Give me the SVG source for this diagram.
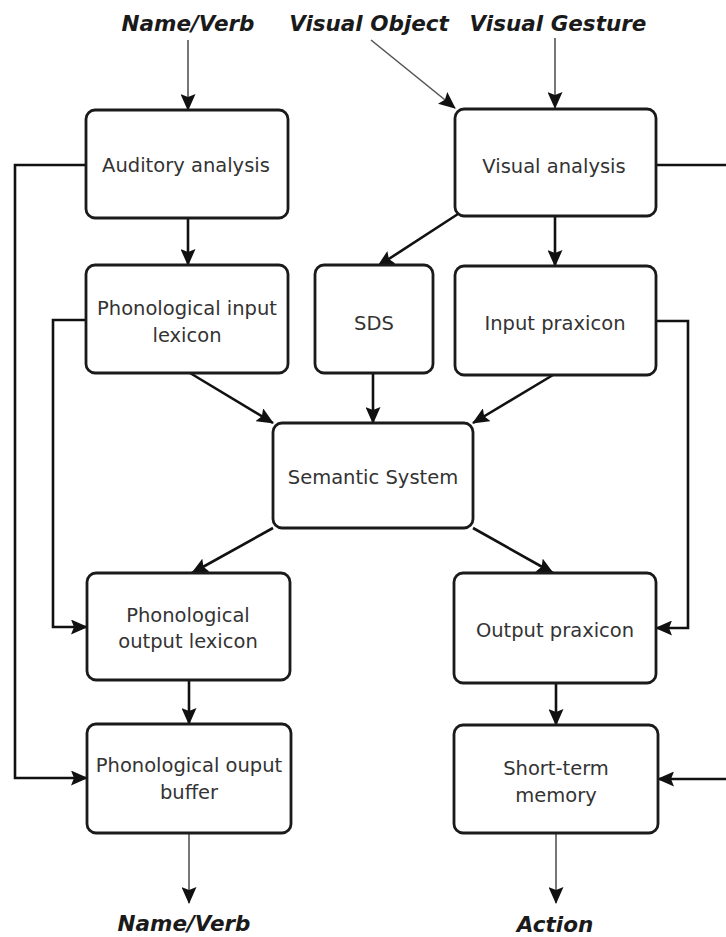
<svg xmlns="http://www.w3.org/2000/svg" width="726" height="937" viewBox="0 0 726 937">
<style>
.box{fill:#fff;stroke:#1a1a1a;stroke-width:2.8}
.t{font-family:"DejaVu Sans",Verdana,sans-serif;font-size:19.5px;fill:#333;text-anchor:middle}
.lbl{font-family:"DejaVu Sans","Liberation Sans",sans-serif;font-size:21.5px;font-weight:bold;font-style:italic;fill:#1a1a1a;text-anchor:middle}
.c{fill:none;stroke:#111;stroke-width:2.6}
.io{fill:none;stroke:#555;stroke-width:1.6}
</style>
<defs>
<marker id="a" viewBox="0 0 17 15" refX="16" refY="7.5" markerWidth="17" markerHeight="15" markerUnits="userSpaceOnUse" orient="auto">
<path d="M0,0 L17,7.5 L0,15 L3,7.5 z" fill="#111"/>
</marker>
</defs>
<rect width="726" height="937" fill="#fff"/>

<g id="labels">
<text class="lbl" x="188" y="31">Name/Verb</text>
<text class="lbl" x="369" y="31">Visual Object</text>
<text class="lbl" x="558" y="31">Visual Gesture</text>
<text class="lbl" x="184" y="931">Name/Verb</text>
<text class="lbl" x="555" y="932">Action</text>
</g>

<g id="connectors">
<line class="io" x1="188" y1="40" x2="188" y2="110" marker-end="url(#a)"/>
<line class="io" x1="371" y1="40" x2="455" y2="108" marker-end="url(#a)"/>
<line class="io" x1="555" y1="38" x2="555" y2="108" marker-end="url(#a)"/>
<line class="io" x1="189" y1="833" x2="189" y2="903" marker-end="url(#a)"/>
<line class="io" x1="556" y1="833" x2="556" y2="903" marker-end="url(#a)"/>

<polyline class="c" points="86,165 15,165 15,778 87,778" marker-end="url(#a)"/>
<polyline class="c" points="86,320 53,320 53,627 87,627" marker-end="url(#a)"/>
<polyline class="c" points="656,321 688,321 688,628 656,628" marker-end="url(#a)"/>
<line class="c" x1="656" y1="165" x2="726" y2="165"/>
<line class="c" x1="726" y1="779" x2="658" y2="779" marker-end="url(#a)"/>

<line class="c" x1="188" y1="218" x2="188" y2="265" marker-end="url(#a)"/>
<line class="c" x1="458" y1="214" x2="378" y2="266" marker-end="url(#a)"/>
<line class="c" x1="555" y1="216" x2="555" y2="266" marker-end="url(#a)"/>
<line class="c" x1="190" y1="373" x2="273" y2="423" marker-end="url(#a)"/>
<line class="c" x1="373" y1="373" x2="373" y2="423" marker-end="url(#a)"/>
<line class="c" x1="553" y1="375" x2="473" y2="423" marker-end="url(#a)"/>
<line class="c" x1="273" y1="528" x2="192" y2="573" marker-end="url(#a)"/>
<line class="c" x1="473" y1="528" x2="553" y2="573" marker-end="url(#a)"/>
<line class="c" x1="189" y1="680" x2="189" y2="724" marker-end="url(#a)"/>
<line class="c" x1="556" y1="683" x2="556" y2="725" marker-end="url(#a)"/>
</g>

<g id="auditory">
<rect class="box" x="86" y="110" width="202" height="108" rx="9"/>
<text class="t" x="186" y="172">Auditory analysis</text>
</g>
<g id="visual">
<rect class="box" x="455" y="109" width="201" height="107" rx="9"/>
<text class="t" x="554" y="173">Visual analysis</text>
</g>
<g id="phon-input">
<rect class="box" x="86" y="265" width="202" height="108" rx="9"/>
<text class="t" x="187" y="315">Phonological input</text>
<text class="t" x="187" y="342">lexicon</text>
</g>
<g id="sds">
<rect class="box" x="315" y="265" width="118" height="108" rx="9"/>
<text class="t" x="374" y="330">SDS</text>
</g>
<g id="input-praxicon">
<rect class="box" x="455" y="266" width="201" height="109" rx="9"/>
<text class="t" x="555" y="330">Input praxicon</text>
</g>
<g id="semantic">
<rect class="box" x="273" y="423" width="200" height="105" rx="9"/>
<text class="t" x="373" y="484">Semantic System</text>
</g>
<g id="phon-output">
<rect class="box" x="87" y="573" width="203" height="107" rx="9"/>
<text class="t" x="188" y="622">Phonological</text>
<text class="t" x="188" y="648">output lexicon</text>
</g>
<g id="output-praxicon">
<rect class="box" x="454" y="573" width="202" height="110" rx="9"/>
<text class="t" x="555" y="637">Output praxicon</text>
</g>
<g id="phon-buffer">
<rect class="box" x="87" y="724" width="204" height="109" rx="9"/>
<text class="t" x="189" y="772">Phonological ouput</text>
<text class="t" x="189" y="799">buffer</text>
</g>
<g id="stm">
<rect class="box" x="454" y="725" width="204" height="108" rx="9"/>
<text class="t" x="556" y="775">Short-term</text>
<text class="t" x="556" y="802">memory</text>
</g>
</svg>
